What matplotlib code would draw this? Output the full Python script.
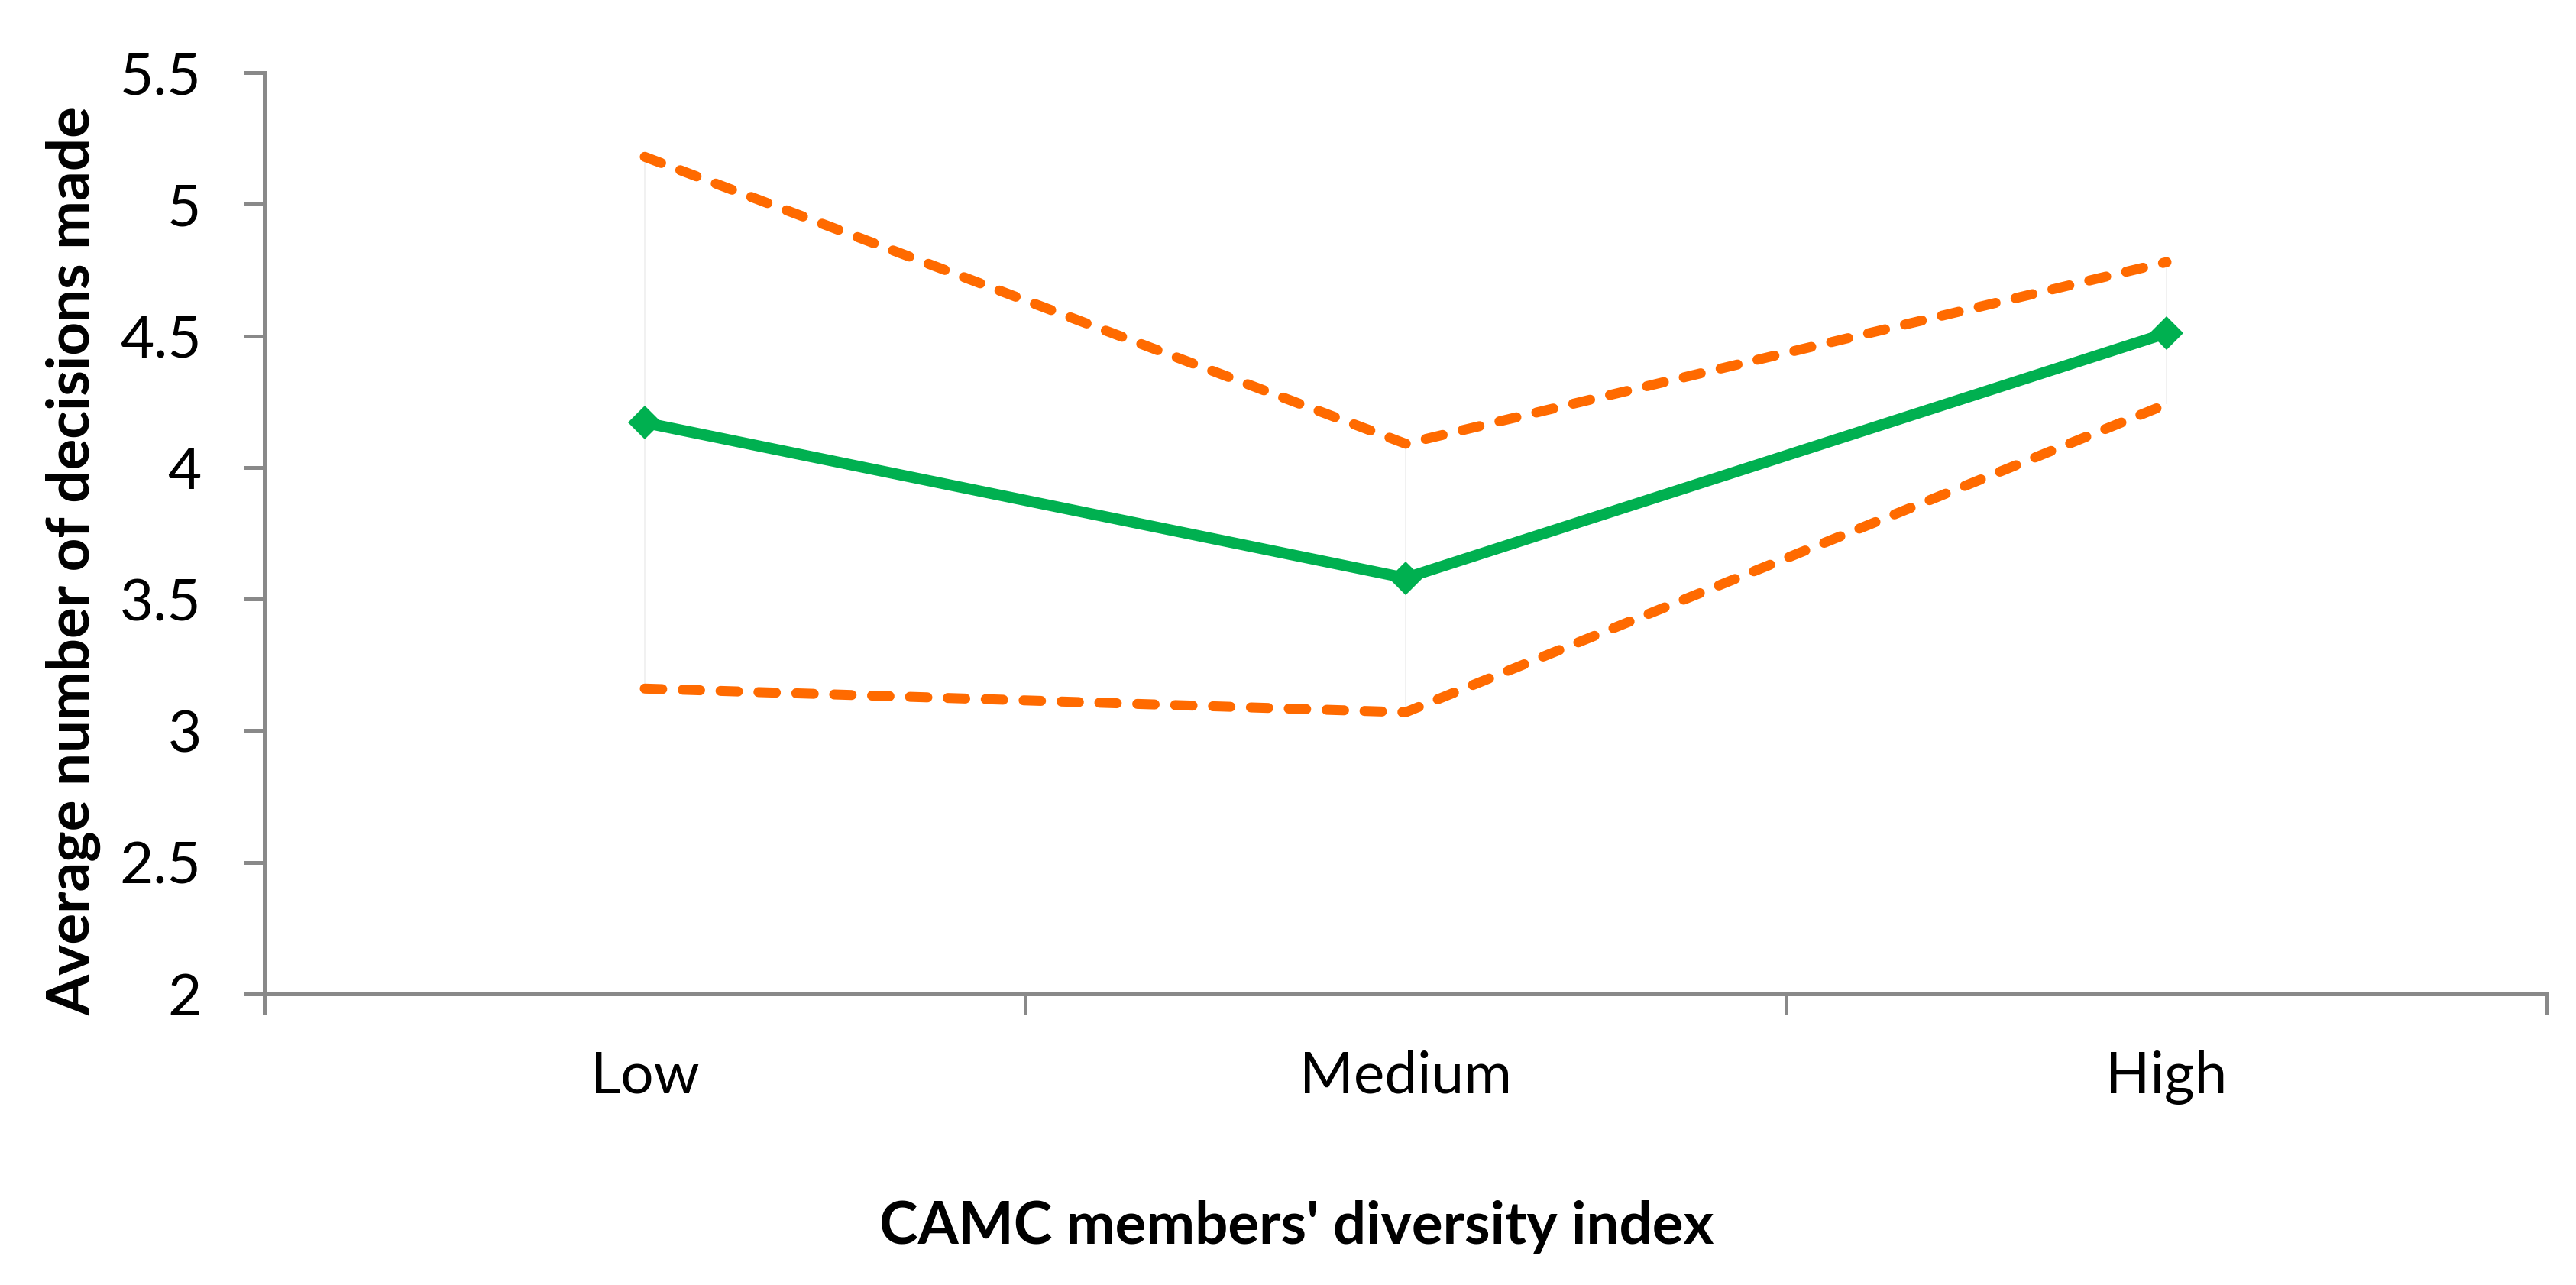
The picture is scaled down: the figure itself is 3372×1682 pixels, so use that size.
import matplotlib
matplotlib.use("Agg")
import matplotlib.pyplot as plt
from matplotlib.ticker import FixedLocator, NullFormatter

plt.rcParams['font.family'] = ['Lato', 'DejaVu Sans']

categories = ["Low", "Medium", "High"]
mean_values = [4.17, 3.58, 4.51]
upper_values = [5.18, 4.09, 4.78]
lower_values = [3.16, 3.07, 4.24]
y_ticks = [2, 2.5, 3, 3.5, 4, 4.5, 5, 5.5]
y_tick_labels = ["2", "2.5", "3", "3.5", "4", "4.5", "5", "5.5"]

W, H = 3373, 1682
fig = plt.figure(figsize=(W / 100, H / 100), dpi=100)
ax = fig.add_axes([346 / W, 1 - 1301 / H, (3334 - 346) / W, (1301 - 95) / H])

x = list(range(len(categories)))
axis_grey = "#898989"
green = "#00B050"
orange = "#FF6A00"
fs = 55

# faint high-low lines
ax.vlines(x, lower_values, upper_values, colors="#efefef", linewidth=1.2, zorder=1)

ax.plot(x, upper_values, color=orange, linewidth=9.4, linestyle=(0, (1.75, 2.05)),
        dash_capstyle="round", solid_joinstyle="round", zorder=2)
ax.plot(x, lower_values, color=orange, linewidth=9.4, linestyle=(0, (1.75, 2.05)),
        dash_capstyle="round", solid_joinstyle="round", zorder=2)
ax.plot(x, mean_values, color=green, linewidth=10.5, marker="D", markersize=22,
        markeredgewidth=0, solid_joinstyle="round", zorder=3)

ax.set_xlim(-0.5, len(categories) - 0.5)
ax.set_ylim(2, 5.5)

for s in ["top", "right"]:
    ax.spines[s].set_visible(False)
for s in ["left", "bottom"]:
    ax.spines[s].set_color(axis_grey)
    ax.spines[s].set_linewidth(3.6)

ax.set_yticks(y_ticks)
ax.set_yticklabels(y_tick_labels)
ax.tick_params(axis="y", which="major", direction="out", length=19.4, width=3.6,
               color=axis_grey, pad=40, labelsize=fs, labelcolor="black")

ax.xaxis.set_major_locator(FixedLocator([i - 0.5 for i in range(len(categories) + 1)]))
ax.xaxis.set_major_formatter(NullFormatter())
ax.xaxis.set_minor_locator(FixedLocator(x))
ax.set_xticklabels(categories, minor=True)
ax.tick_params(axis="x", which="major", direction="out", length=19.4, width=3.6, color=axis_grey)
ax.tick_params(axis="x", which="minor", length=0, pad=53, labelsize=fs, labelcolor="black")

ax.set_xlabel("CAMC members' diversity index", fontsize=fs, fontweight="bold")
ax.xaxis.set_label_coords((1697 - 346) / (3334 - 346), -0.2240)
ax.set_ylabel("Average number of decisions made", fontsize=fs, fontweight="bold")
ax.yaxis.set_label_coords((132 - 346) / (3334 - 346), (1301 - 734) / (1301 - 95))

fig.savefig("out.png", dpi=100, facecolor="white")
